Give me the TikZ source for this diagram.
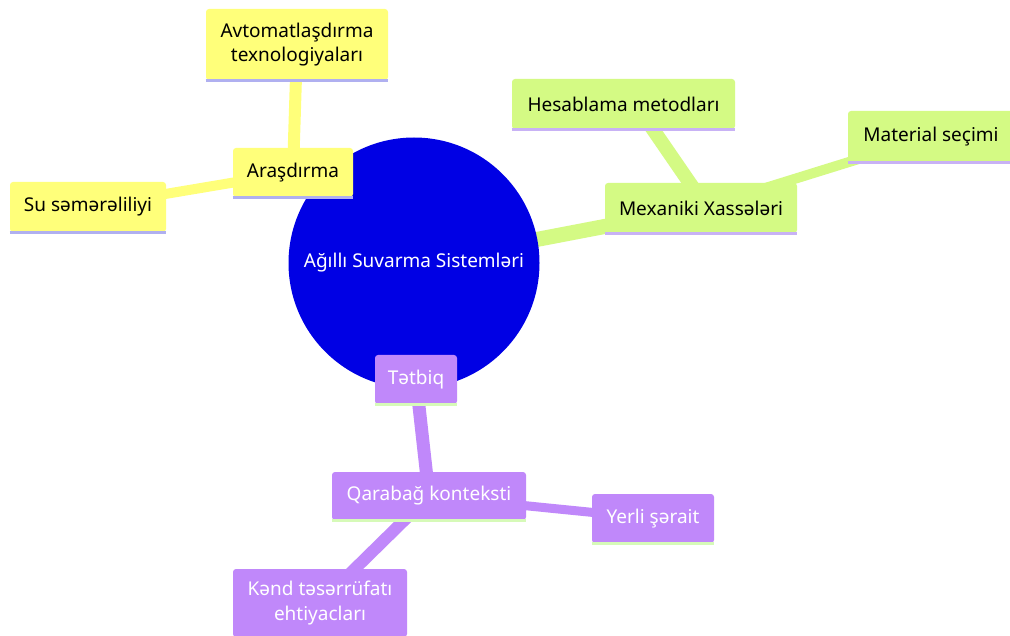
\documentclass[tikz,border=0pt]{standalone}
\usepackage{fontspec}
\setmainfont{Noto Sans}
\usetikzlibrary{backgrounds}
\definecolor{cRoot}{RGB}{0,0,228}
\definecolor{cY}{RGB}{255,255,122}
\definecolor{cYl}{RGB}{176,176,240}
\definecolor{cG}{RGB}{212,250,132}
\definecolor{cGl}{RGB}{200,178,245}
\definecolor{cP}{RGB}{192,136,250}
\definecolor{cPl}{RGB}{214,250,184}
\tikzset{
  box/.style={rectangle, rounded corners=3pt, inner sep=0pt, align=center,
    font=\fontsize{19}{24.5}\selectfont},
  ybox/.style={box, fill=cY, text=black,
    append after command={(\tikzlastnode.south west) edge[draw=cYl, line width=3pt] (\tikzlastnode.south east)}},
  gbox/.style={box, fill=cG, text=black,
    append after command={(\tikzlastnode.south west) edge[draw=cGl, line width=3pt] (\tikzlastnode.south east)}},
  pbox/.style={box, fill=cP, text=white,
    append after command={(\tikzlastnode.south west) edge[draw=cPl, line width=3pt] (\tikzlastnode.south east)}},
  yedge/.style={draw=cY},
  gedge/.style={draw=cG},
  pedge/.style={draw=cP},
}
\begin{document}
\begin{tikzpicture}[x=1pt,y=-1pt]
\useasboundingbox (0,0) rectangle (1010,636);
% root
\node[circle, fill=cRoot, minimum size=251pt, inner sep=0pt, text=white,
  font=\fontsize{19}{24.5}\selectfont] (root) at (414,263) {Ağıllı Suvarma Sistemləri};
% yellow
\node[ybox, minimum width=120pt, minimum height=49pt] (ara) at (293,172.5) {Araşdırma};
\node[ybox, minimum width=182pt, minimum height=71pt] (avt) at (297,44.5) {Avtomatlaşdırma\\texnologiyaları};
\node[ybox, minimum width=156pt, minimum height=50pt] (su) at (88,207) {Su səmərəliliyi};
% green
\node[gbox, minimum width=192pt, minimum height=50pt] (mex) at (701,208) {Mexaniki Xassələri};
\node[gbox, minimum width=223pt, minimum height=50pt] (hes) at (623.5,104) {Hesablama metodları};
\node[gbox, minimum width=166pt, minimum height=51pt] (mat) at (931,136.5) {Material seçimi};
% purple
\node[pbox, minimum width=82pt, minimum height=49pt] (tet) at (416,379.5) {Tətbiq};
\node[pbox, minimum width=194pt, minimum height=48pt] (qar) at (429,496) {Qarabağ konteksti};
\node[pbox, minimum width=122pt, minimum height=49pt] (yer) at (653,518.5) {Yerli şərait};
\node[pbox, minimum width=174pt, minimum height=68pt] (ken) at (320,603) {Kənd təsərrüfatı\\ehtiyacları};
\begin{pgfonlayer}{background}
\fill[white] (0,0) rectangle (1010,636);
\draw[yedge, line width=15pt] (root.center) -- (ara.center);
\draw[yedge, line width=12pt] (ara.center) -- (avt.center);
\draw[yedge, line width=10pt] (ara.center) -- (su.center);
\draw[gedge, line width=15pt] (root.center) -- (mex.center);
\draw[gedge, line width=14pt] ([xshift=6pt]mex.center) -- ([xshift=12pt]hes.center);
\draw[gedge, line width=10pt] (mex.center) -- (mat.center);
\draw[pedge, line width=15pt] (root.center) -- (tet.center);
\draw[pedge, line width=13pt] (tet.center) -- (qar.center);
\draw[pedge, line width=9pt] (qar.center) -- (yer.center);
\draw[pedge, line width=12pt] (qar.center) -- (ken.center);
\end{pgfonlayer}
\end{tikzpicture}
\end{document}
